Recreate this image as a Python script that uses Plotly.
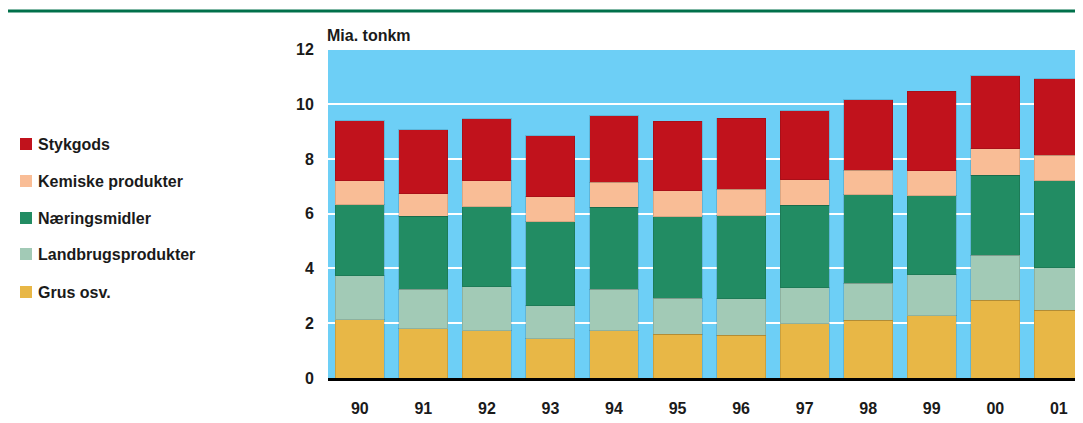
import plotly.graph_objects as go

years = ["90", "91", "92", "93", "94", "95", "96", "97", "98", "99", "00", "01"]

grus = [2.13, 1.80, 1.72, 1.43, 1.73, 1.60, 1.57, 1.99, 2.10, 2.28, 2.84, 2.48]
landbrug = [1.61, 1.45, 1.61, 1.21, 1.51, 1.31, 1.32, 1.31, 1.36, 1.49, 1.65, 1.55]
naering = [2.59, 2.66, 2.92, 3.06, 3.00, 2.97, 3.03, 3.00, 3.23, 2.88, 2.91, 3.18]
kemisk = [0.88, 0.82, 0.96, 0.91, 0.90, 0.96, 0.98, 0.94, 0.90, 0.92, 0.98, 0.92]
stykgods = [2.19, 2.34, 2.25, 2.23, 2.44, 2.53, 2.59, 2.52, 2.57, 2.91, 2.66, 2.80]

series = [
    ("Grus osv.", grus, "#e8b746"),
    ("Landbrugsprodukter", landbrug, "#a2cab6"),
    ("Næringsmidler", naering, "#228c63"),
    ("Kemiske produkter", kemisk, "#f9bd96"),
    ("Stykgods", stykgods, "#c1121c"),
]

FONT = "Liberation Sans, Arial, sans-serif"
TXT = "#1a1a1a"

# page has an 8px body margin, so the figure is drawn 8px smaller/offset
W, H = 1075, 415
ml, mr, mt, mb = 320, 0, 40, 45
pw = W - ml - mr
ph = H - mt - mb


def px_x(x):
    return (x - ml) / pw


def px_y(y):
    return (H - mb - y) / ph


fig = go.Figure()
for name, vals, color in series:
    fig.add_trace(
        go.Bar(
            x=years,
            y=vals,
            name=name,
            marker=dict(color=color, line=dict(color="rgba(0,0,0,0.12)", width=1)),
        )
    )

fig.update_layout(
    width=W,
    height=H,
    barmode="stack",
    bargap=0.23,
    margin=dict(l=ml, r=mr, t=mt, b=mb),
    paper_bgcolor="white",
    plot_bgcolor="#6dcff6",
    font=dict(family=FONT, size=16, color=TXT, weight="bold"),
    showlegend=False,
    xaxis=dict(
        range=[-0.5, 11.38],
        showgrid=False,
        showline=True,
        linecolor="black",
        linewidth=3,
        ticks="outside",
        ticklen=14,
        tickcolor="rgba(0,0,0,0)",
        tickfont=dict(family=FONT, size=16, weight="bold"),
    ),
    yaxis=dict(
        range=[0, 12.05],
        dtick=2,
        showgrid=True,
        gridcolor="white",
        gridwidth=2,
        zeroline=False,
        showline=False,
        ticks="outside",
        ticklen=10,
        tickcolor="rgba(0,0,0,0)",
        tickfont=dict(family=FONT, size=16, weight="bold"),
    ),
)

# legend drawn by hand: swatch + label, top to bottom
row_y = [136, 173, 210, 246, 284]
for (name, vals, color), y in zip(reversed(series), row_y):
    fig.add_shape(
        type="rect",
        xref="paper",
        yref="paper",
        x0=px_x(12),
        x1=px_x(24),
        y0=px_y(y - 6),
        y1=px_y(y + 6),
        fillcolor=color,
        line=dict(width=0),
    )
    fig.add_annotation(
        text=name,
        xref="paper",
        yref="paper",
        x=px_x(28),
        y=px_y(y),
        xanchor="left",
        yanchor="middle",
        showarrow=False,
        font=dict(family=FONT, size=16, color=TXT, weight="bold"),
    )

# green rule across the top
fig.add_shape(
    type="line",
    xref="paper",
    yref="paper",
    x0=px_x(-10),
    x1=1.0,
    y0=px_y(3),
    y1=px_y(3),
    line=dict(color="#00704a", width=3),
)

fig.add_annotation(
    text="Mia. tonkm",
    xref="paper",
    yref="paper",
    x=px_x(ml - 3),
    y=px_y(27),
    xanchor="left",
    yanchor="middle",
    showarrow=False,
    font=dict(family=FONT, size=16, color=TXT, weight="bold"),
)

fig.write_html("out.html")
